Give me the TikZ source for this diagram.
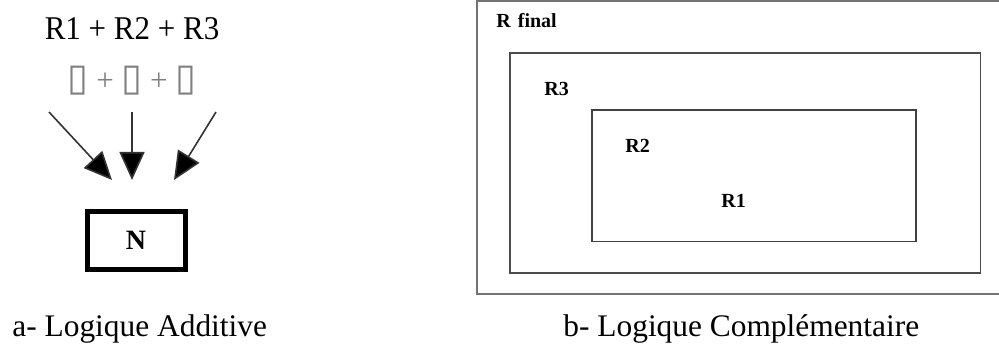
\documentclass[tikz,border=0pt]{standalone}
\usepackage{graphicx}
\usepackage{fontspec}
\setmainfont{Liberation Serif}
\newfontfamily\symfont{DejaVu Sans}
\usetikzlibrary{arrows.meta}
\tikzset{
  big/.style={font=\fontsize{15.5}{18}\selectfont, inner sep=0pt},
  captext/.style={font=\fontsize{15.7}{18}\selectfont, inner sep=0pt, anchor=base west},
  lab/.style={font=\bfseries\fontsize{10}{12}\selectfont, inner sep=0pt, anchor=west},
  arr/.style={line width=0.8pt, draw=black!80, -{Triangle[length=14pt,width=12.5pt,fill=black]}},
  frame/.style={draw=black!70, line width=0.9pt},
}
\newcommand{\tofu}{{\symfont\fontsize{19}{20}\selectfont ▯}}
\begin{document}
\begin{tikzpicture}[x=0.5pt,y=-0.5pt]
\useasboundingbox (0,0) rectangle (999,346);
% left part
\node[big, anchor=base] (sum) at (132,40) {\scalebox{1}[1.07]{R1 + R2 + R3}};
\node[big, anchor=base, text=black!50] (sq) at (132,91) {\tofu\ + \tofu\ + \tofu};
\coordinate (s1) at (49,112);
\coordinate (s2) at (132,112);
\coordinate (s3) at (216,112);
\coordinate (t1) at (112,180);
\coordinate (t2) at (132,180);
\coordinate (t3) at (174,180);
\draw[arr] (s1) -- (t1);
\draw[arr] (s2) -- (t2);
\draw[arr] (s3) -- (t3);
\node[draw, line width=2.5pt, minimum width=49pt, minimum height=29pt, inner sep=0pt,
      font=\bfseries\fontsize{14}{16}\selectfont] (N) at (136,240.5) {N};
\node[captext] (capA) at (12,337) {a- Logique Additive};
% right part
\node[draw=black!55, line width=1pt, minimum width=266.75pt, minimum height=146.25pt, inner sep=0pt] (Rf) at (743.25,147.75) {};
\node[frame, minimum width=235.25pt, minimum height=110pt, inner sep=0pt] (R3b) at (745.25,163) {};
\node[frame, draw=black!75, minimum width=162pt, minimum height=65.75pt, inner sep=0pt] (R2b) at (754,175.75) {};
\node[lab] (lRf) at (496,21) {R\hspace{3.5pt}final};
\node[lab] (lR3) at (544,89) {R3};
\node[lab] (lR2) at (625,146) {R2};
\node[lab] (lR1) at (721,201) {R1};
\node[captext] (capB) at (563,337) {b- Logique Complémentaire};
\end{tikzpicture}
\end{document}
